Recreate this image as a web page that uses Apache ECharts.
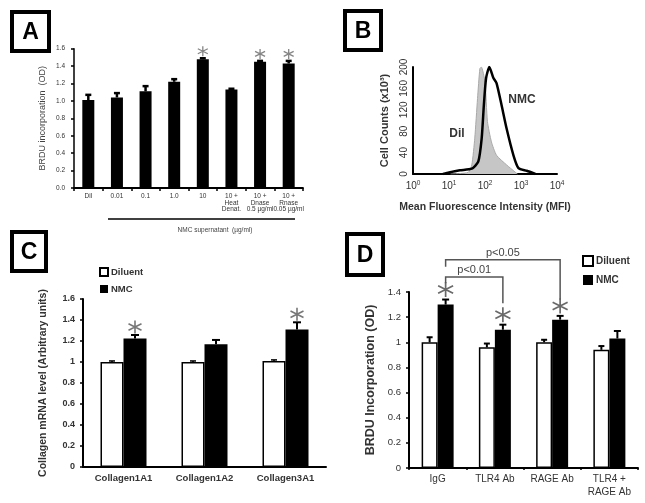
<!DOCTYPE html>
<html><head><meta charset="utf-8">
<script src="https://cdn.jsdelivr.net/npm/echarts@6/dist/echarts.min.js"></script>
<style>html,body{margin:0;padding:0;background:#fff}#c{width:645px;height:503px}</style>
</head><body><div id="c"></div>
<script>
// ---------- Panel A data ----------
const aCategories = ['Dil', '0.01', '0.1', '1.0', '10', '10 +\nHeat\nDenat.', '10 +\nDnase\n0.5 \u00b5g/ml', '10 +\nRnase\n0.05 \u00b5g/ml'];
const aValues = [1.01, 1.04, 1.11, 1.22, 1.48, 1.13, 1.45, 1.43];
const aErrTop = [1.07, 1.09, 1.17, 1.25, 1.49, 1.14, 1.46, 1.46];
const aSignificant = [false, false, false, false, true, false, true, true];
const aYTicks = [0, 1.6, 0.2];

// ---------- Panel B data (MFI, cell counts x10^3) ----------
const bDil = [[11, 0], [34, 3], [43, 17], [52, 67], [62, 141], [72, 197], [79, 200], [100, 172], [117, 98], [151, 60], [209, 35], [398, 17], [676, 4], [794, 0]];
const bNMC = [[6.8, 0], [10, 3], [20, 7], [43, 10], [65, 23], [81, 67], [93, 129], [107, 179], [132, 200], [170, 180], [209, 170], [288, 129], [398, 85], [617, 35], [851, 11], [1445, 6], [2512, 0]];
const bYTicks = [0, 200, 40];
const bXRange = [1, 10000];

// ---------- Panel C data ----------
const cCategories = ['Collagen1A1', 'Collagen1A2', 'Collagen3A1'];
const cDiluent = [1.0, 1.0, 1.01];
const cDiluentErr = [1.01, 1.01, 1.02];
const cNMC = [1.225, 1.17, 1.31];
const cNMCErr = [1.257, 1.21, 1.378];
const cSignificant = [true, false, true];
const cYTicks = [0, 1.6, 0.2];

// ---------- Panel D data ----------
const dCategories = ['IgG', 'TLR4 Ab', 'RAGE Ab', 'TLR4 +\nRAGE Ab'];
const dDiluent = [1.0, 0.96, 1.0, 0.94];
const dDiluentErr = [1.04, 0.99, 1.02, 0.97];
const dNMC = [1.30, 1.10, 1.18, 1.03];
const dNMCErr = [1.34, 1.14, 1.21, 1.09];
const dSignificant = [true, true, true, false];
const dYTicks = [0, 1.4, 0.2];
// brackets: [fromCategory, toCategory, topY, leftEndY, rightEndY, label]
const dBrackets = [[0, 2, 1.656, 1.60, 1.34, 'p<0.05'], [0, 1, 1.52, 1.47, 1.31, 'p<0.01']];

const FONT = "'Liberation Sans', Arial, sans-serif";
const TXT = '#333';
const STAR = 'path://M0,-10L0,10M-8.66,-5L8.66,5M-8.66,5L8.66,-5';

function errRender(dx, cap, lw) {
  return function (params, api) {
    const i = api.value(0);
    const b = api.coord([i, api.value(1)]);
    const t = api.coord([i, api.value(2)]);
    const x = b[0] + dx;
    return { type: 'group', children: [
      { type: 'line', shape: { x1: x, y1: b[1], x2: x, y2: t[1] }, style: { stroke: '#000', lineWidth: lw } },
      { type: 'line', shape: { x1: x - cap, y1: t[1], x2: x + cap, y2: t[1] }, style: { stroke: '#000', lineWidth: lw } }
    ] };
  };
}
function errData(vals, tops) { return vals.map((v, i) => [i, v, tops[i]]); }
function starData(tops, sig) { return tops.map((t, i) => sig[i] ? [i, t] : null).filter(Boolean); }

function boxGraphic(x, y, w, h, letter) {
  return [
    { type: 'rect', shape: { x: x, y: y, width: w, height: h }, style: { fill: '#fff', stroke: '#000', lineWidth: 4 } },
    { type: 'text', x: x + w / 2, y: y + h / 2 + 1, style: { text: letter, font: 'bold 23px ' + FONT, fill: '#000', align: 'center', verticalAlign: 'middle' } }
  ];
}

const chart = echarts.init(document.getElementById('c'));

const yAxisCommon = (ticks, fmt, fs, bold, margin, lineW) => ({
  type: 'value', min: ticks[0], max: ticks[1], interval: ticks[2],
  axisLine: { show: true, lineStyle: { color: '#000', width: lineW } },
  axisTick: { show: true, length: 3, lineStyle: { color: '#000', width: 1.5 } },
  splitLine: { show: false },
  axisLabel: { formatter: fmt, fontSize: fs, fontWeight: bold ? 'bold' : 'normal', color: TXT, fontFamily: FONT, margin: margin }
});

const option = {
  animation: false,
  textStyle: { fontFamily: FONT },
  grid: [
    { left: 74, top: 48.7, width: 229, height: 139.3 },
    { left: 413, top: 67, width: 144, height: 107 },
    { left: 83, top: 299, width: 243, height: 168 },
    { left: 409, top: 292, width: 229, height: 176 }
  ],
  legend: [
    { data: ['Diluent', 'NMC'], orient: 'vertical', left: 99, top: 267, itemWidth: 8, itemHeight: 8, itemGap: 7, icon: 'rect',
      textStyle: { fontSize: 9.5, fontWeight: 'bold', color: TXT, fontFamily: FONT, padding: [0, 0, 0, -2] }, padding: 0 },
    { data: ['Diluent', 'NMC'], orient: 'vertical', left: 582, top: 255, itemWidth: 10, itemHeight: 10, itemGap: 8, icon: 'rect',
      textStyle: { fontSize: 10, fontWeight: 'bold', color: TXT, fontFamily: FONT, padding: [0, 0, 0, -2] }, padding: 0 }
  ],
  xAxis: [
    { type: 'category', gridIndex: 0, data: aCategories,
      axisLine: { lineStyle: { color: '#000', width: 1.8 } },
      axisTick: { show: true, length: 3, lineStyle: { color: '#000', width: 1.5 } },
      axisLabel: { interval: 0, fontSize: 6.5, lineHeight: 6.5, color: TXT, fontFamily: FONT, margin: 5 } },
    { type: 'log', gridIndex: 1, min: bXRange[0], max: bXRange[1], logBase: 10,
      axisLine: { lineStyle: { color: '#000', width: 2 } }, axisTick: { show: false }, splitLine: { show: false },
      axisLabel: { margin: 6, color: TXT, fontSize: 10, fontFamily: FONT,
        formatter: v => '10{s|' + Math.round(Math.log10(v)) + '}',
        rich: { s: { fontSize: 6.5, verticalAlign: 'top', color: TXT, padding: [0, 0, 5, 0] } } },
      name: 'Mean Fluorescence Intensity (MFI)', nameLocation: 'middle', nameGap: 28,
      nameTextStyle: { fontSize: 10.5, fontWeight: 'bold', color: TXT, fontFamily: FONT } },
    { type: 'category', gridIndex: 2, data: cCategories,
      axisLine: { lineStyle: { color: '#000', width: 2 } }, axisTick: { show: false },
      axisLabel: { interval: 0, fontSize: 9.5, fontWeight: 'bold', color: TXT, fontFamily: FONT, margin: 6 } },
    { type: 'category', gridIndex: 3, data: dCategories,
      axisLine: { lineStyle: { color: '#000', width: 2 } },
      axisTick: { show: true, length: 2, lineStyle: { color: '#000', width: 1.5 } },
      axisLabel: { interval: 0, fontSize: 10, lineHeight: 13, color: TXT, fontFamily: FONT, margin: 5 } }
  ],
  yAxis: [
    Object.assign(yAxisCommon(aYTicks, v => v.toFixed(1), 6.5, false, 9, 1.5), { gridIndex: 0,
      name: 'BRDU incorporation  (OD)', nameLocation: 'middle', nameGap: 27,
      nameTextStyle: { fontSize: 9, color: '#444', fontFamily: FONT } }),
    Object.assign(yAxisCommon(bYTicks, v => String(v), 10, false, 6, 2), { gridIndex: 1,
      axisTick: { show: false },
      axisLabel: { rotate: 90, fontSize: 10, color: TXT, fontFamily: FONT, margin: 4 },
      name: 'Cell Counts (x10\u00b3)', nameLocation: 'middle', nameGap: 23,
      nameTextStyle: { fontSize: 11, fontWeight: 'bold', color: TXT, fontFamily: FONT } }),
    Object.assign(yAxisCommon(cYTicks, v => String(Math.round(v * 10) / 10), 9, true, 8, 2), { gridIndex: 2,
      name: 'Collagen mRNA level (Arbitrary units)', nameLocation: 'middle', nameGap: 34,
      nameTextStyle: { fontSize: 10.5, fontWeight: 'bold', color: TXT, fontFamily: FONT } }),
    Object.assign(yAxisCommon(dYTicks, v => String(Math.round(v * 10) / 10), 9.5, false, 8, 2), { gridIndex: 3,
      name: 'BRDU Incorporation (OD)', nameLocation: 'middle', nameGap: 32,
      nameTextStyle: { fontSize: 12.5, fontWeight: 'bold', color: TXT, fontFamily: FONT } })
  ],
  series: [
    // ---- A ----
    { type: 'bar', xAxisIndex: 0, yAxisIndex: 0, data: aValues, barWidth: 12, itemStyle: { color: '#000' } },
    { type: 'custom', xAxisIndex: 0, yAxisIndex: 0, data: errData(aValues, aErrTop), encode: { x: 0, y: [1, 2] },
      renderItem: errRender(0, 3, 2.5), z: 3 },
    { type: 'scatter', xAxisIndex: 0, yAxisIndex: 0, data: starData(aErrTop, aSignificant), symbol: STAR, symbolSize: 10,
      symbolOffset: [0, -7], itemStyle: { color: 'none', borderColor: '#666', borderWidth: 1.3 } },
    // ---- B ----
    { type: 'line', xAxisIndex: 1, yAxisIndex: 1, data: bDil, symbol: 'none', smooth: 0.2,
      lineStyle: { color: '#a9a9a9', width: 1 }, areaStyle: { color: '#c6c6c6', opacity: 1 } },
    { type: 'line', xAxisIndex: 1, yAxisIndex: 1, data: bNMC, symbol: 'none', smooth: 0.2,
      lineStyle: { color: '#000', width: 2.5 } },
    // ---- C ----
    { name: 'Diluent', type: 'bar', xAxisIndex: 2, yAxisIndex: 2, data: cDiluent, barWidth: 23, barGap: '0%',
      itemStyle: { color: '#fff', borderColor: '#000', borderWidth: 1.5 } },
    { name: 'NMC', type: 'bar', xAxisIndex: 2, yAxisIndex: 2, data: cNMC, barWidth: 23, barGap: '0%',
      itemStyle: { color: '#000' } },
    { type: 'custom', xAxisIndex: 2, yAxisIndex: 2, data: errData(cDiluent, cDiluentErr), encode: { x: 0, y: [1, 2] },
      renderItem: errRender(-11.5, 3, 1.5), z: 3 },
    { type: 'custom', xAxisIndex: 2, yAxisIndex: 2, data: errData(cNMC, cNMCErr), encode: { x: 0, y: [1, 2] },
      renderItem: errRender(11.5, 4, 2), z: 3 },
    { type: 'scatter', xAxisIndex: 2, yAxisIndex: 2, data: starData(cNMCErr, cSignificant), symbol: STAR, symbolSize: 13,
      symbolOffset: [11.5, -8], itemStyle: { color: 'none', borderColor: '#555', borderWidth: 1.6 } },
    // ---- D ----
    { name: 'Diluent', type: 'bar', xAxisIndex: 3, yAxisIndex: 3, data: dDiluent, barWidth: 16, barGap: '0%',
      itemStyle: { color: '#fff', borderColor: '#000', borderWidth: 1.5 } },
    { name: 'NMC', type: 'bar', xAxisIndex: 3, yAxisIndex: 3, data: dNMC, barWidth: 16, barGap: '0%',
      itemStyle: { color: '#000' } },
    { type: 'custom', xAxisIndex: 3, yAxisIndex: 3, data: errData(dDiluent, dDiluentErr), encode: { x: 0, y: [1, 2] },
      renderItem: errRender(-8, 3, 2), z: 3 },
    { type: 'custom', xAxisIndex: 3, yAxisIndex: 3, data: errData(dNMC, dNMCErr), encode: { x: 0, y: [1, 2] },
      renderItem: errRender(8, 3.5, 2), z: 3 },
    { type: 'scatter', xAxisIndex: 3, yAxisIndex: 3, data: starData(dNMCErr, dSignificant), symbol: STAR, symbolSize: 15,
      symbolOffset: [8, -10], itemStyle: { color: 'none', borderColor: '#444', borderWidth: 1.7 } },
    { type: 'custom', xAxisIndex: 3, yAxisIndex: 3, data: dBrackets, encode: { x: [0, 1], y: [2, 3, 4] }, clip: false, z: 4,
      renderItem: function (params, api) {
        const from = api.value(0), to = api.value(1);
        const top = api.coord([from, api.value(2)]);
        const l = api.coord([from, api.value(3)]);
        const rTop = api.coord([to, api.value(2)]);
        const r = api.coord([to, api.value(4)]);
        const x1 = top[0] + 8, x2 = rTop[0] + 8;
        const st = { stroke: '#555', lineWidth: 1.5, fill: 'none' };
        return { type: 'group', children: [
          { type: 'polyline', shape: { points: [[x1, l[1]], [x1, top[1]], [x2, top[1]], [x2, r[1]]] }, style: st },
          { type: 'text', x: (x1 + x2) / 2, y: top[1] - 1, style: { text: dBrackets[params.dataIndex][5], font: '11px ' + FONT, fill: '#444', align: 'center', verticalAlign: 'bottom' } }
        ] };
      } }
  ],
  graphic: [].concat(
    boxGraphic(12, 12, 37, 39, 'A'),
    boxGraphic(345, 11, 36, 39, 'B'),
    boxGraphic(12, 232, 34, 39, 'C'),
    boxGraphic(347, 234, 36, 41, 'D'),
    [
      { type: 'line', shape: { x1: 108, y1: 219, x2: 295, y2: 219 }, style: { stroke: '#000', lineWidth: 1.5 } },
      { type: 'text', x: 215, y: 230, style: { text: 'NMC supernatant  (\u00b5g/ml)', font: '6.5px ' + FONT, fill: '#444', align: 'center', verticalAlign: 'middle' } },
      { type: 'text', x: 522, y: 100, style: { text: 'NMC', font: 'bold 12px ' + FONT, fill: '#333', align: 'center', verticalAlign: 'middle' } },
      { type: 'text', x: 457, y: 134, style: { text: 'Dil', font: 'bold 12px ' + FONT, fill: '#333', align: 'center', verticalAlign: 'middle' } }
    ]
  )
};
chart.setOption(option);
</script></body></html>
